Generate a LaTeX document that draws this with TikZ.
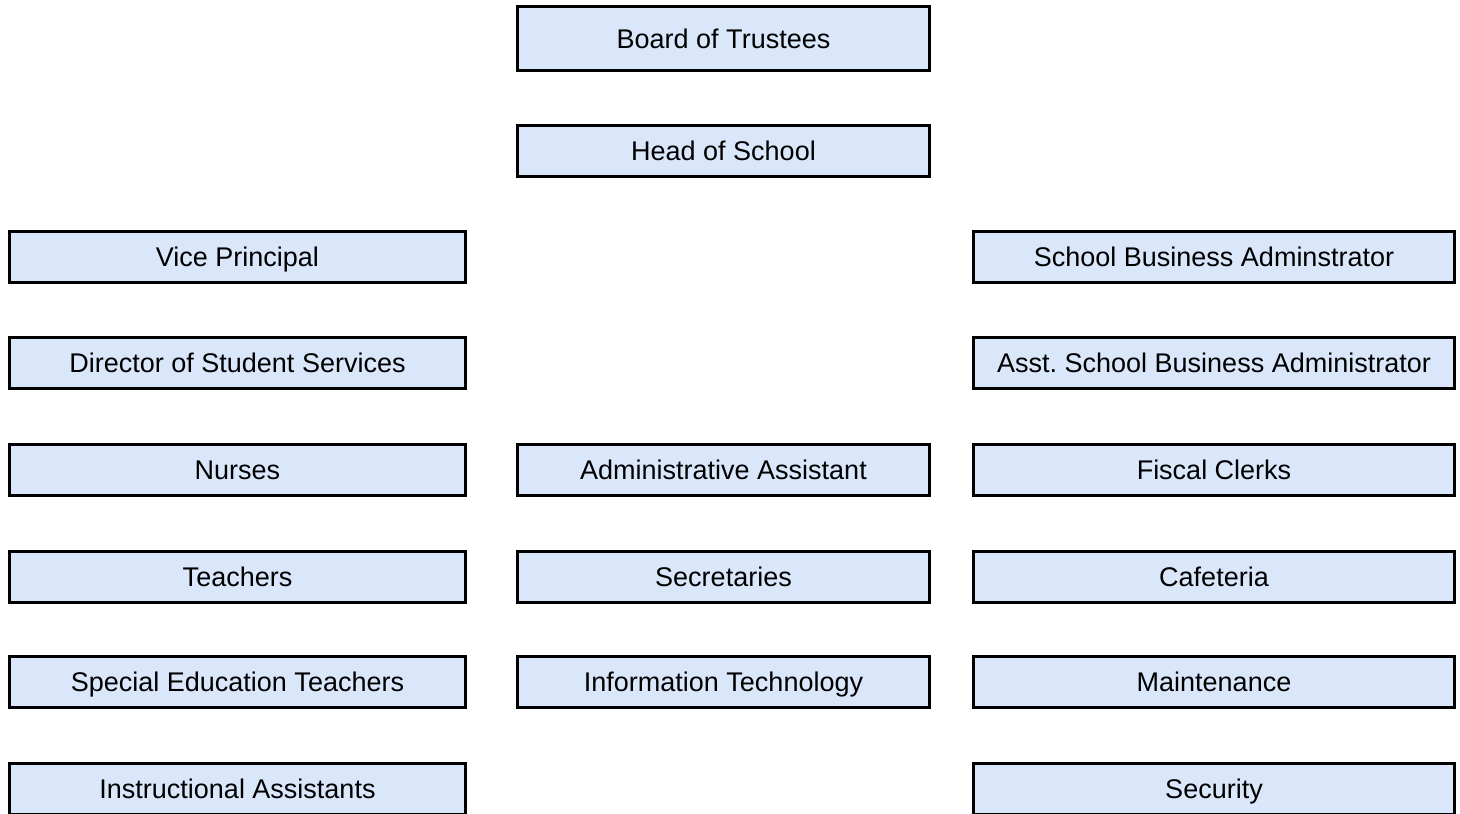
\documentclass[tikz,border=0pt]{standalone}
\usepackage{fontspec}
\setmainfont{Liberation Sans}
\definecolor{boxfill}{RGB}{218,231,251}
\frenchspacing
\begin{document}
\begin{tikzpicture}[x=1pt,y=-1pt,
  orgbox/.style={draw=black, line width=3pt, fill=boxfill, inner sep=0pt,
    text height=19.3pt, text depth=0pt,
    font=\fontsize{27}{30}\selectfont, text=black, anchor=center},
  leftbox/.style={orgbox, minimum width=456pt, minimum height=51pt},
  midbox/.style={orgbox, minimum width=412pt, minimum height=51pt},
  rightbox/.style={orgbox, minimum width=481pt, minimum height=51pt}]
\useasboundingbox (0,0) rectangle (1460,814);
\node[midbox, minimum height=64pt] (board) at (723.5,38.5) {Board of Trustees};
\node[midbox] (head) at (723.5,151) {Head of School};
% left column
\node[leftbox] (vp) at (237.5,257) {Vice Principal};
\node[leftbox] (dss) at (237.5,362.5) {Director of Student Services};
\node[leftbox] (nurses) at (237.5,470) {Nurses};
\node[leftbox] (teachers) at (237.5,576.5) {Teachers};
\node[leftbox] (sped) at (237.5,682) {Special Education Teachers};
\node[leftbox] (ia) at (237.5,789) {Instructional Assistants};
% middle column
\node[midbox] (admin) at (723.5,470) {Administrative Assistant};
\node[midbox] (sec) at (723.5,576.5) {Secretaries};
\node[midbox] (it) at (723.5,682) {Information Technology};
% right column
\node[rightbox] (sba) at (1214,257) {School Business Adminstrator};
\node[rightbox] (asba) at (1214,362.5) {Asst.\ School Business Administrator};
\node[rightbox] (fiscal) at (1214,470) {Fiscal Clerks};
\node[rightbox] (cafe) at (1214,576.5) {Cafeteria};
\node[rightbox] (maint) at (1214,682) {Maintenance};
\node[rightbox] (security) at (1214,789) {Security};
\end{tikzpicture}
\end{document}
